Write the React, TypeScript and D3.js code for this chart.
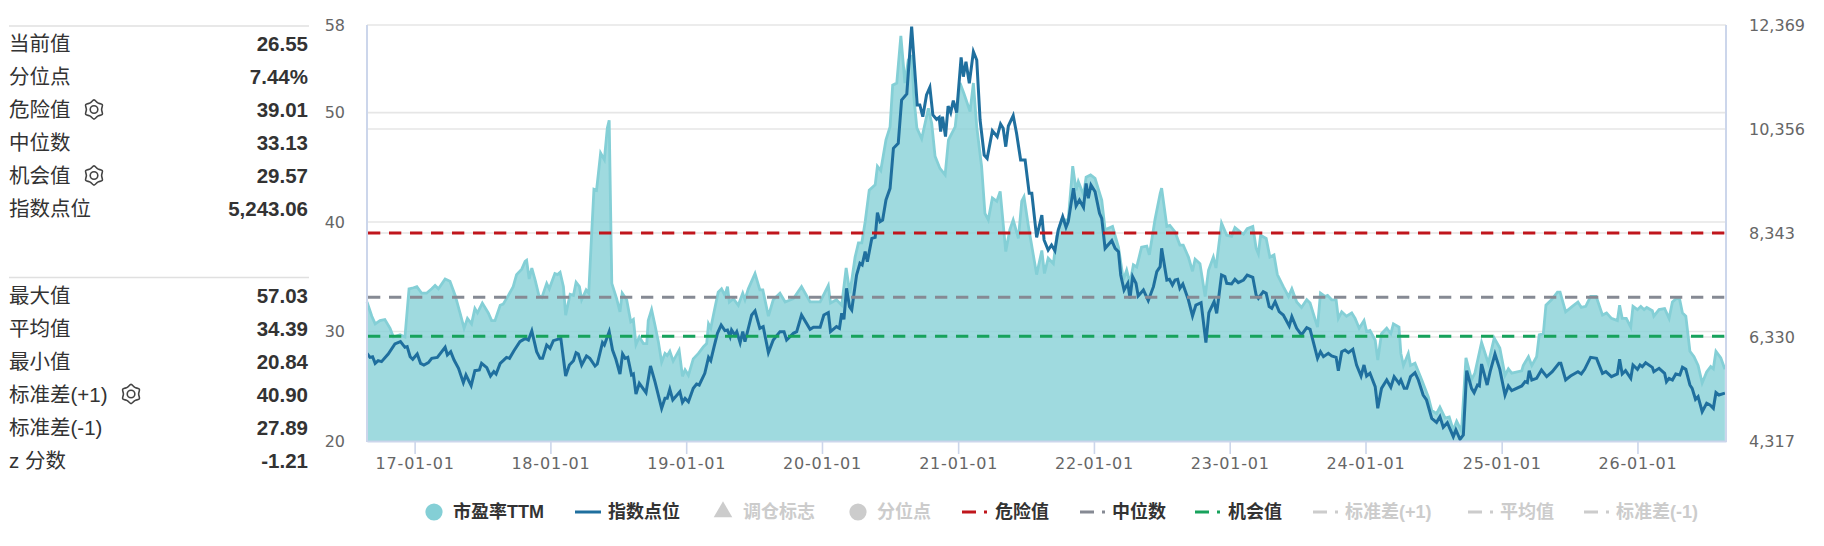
import { useEffect, useRef } from 'react';
import * as d3 from 'd3';

const startDate = new Date(2016, 7, 26);
const totalDays = 3653;

// [days since startDate, value]
const peSeries: Array<[number, number]> = [
  [0,32.7],[13,31.4],[22,30.7],[35,31.0],[48,31.1],[62,30.3],[71,29.5],[89,29.7],[102,29.5],[113,33.9],[125,34.0],[134,34.1],[147,33.5],[160,33.5],[174,33.9],[183,34.2],[192,33.9],[210,34.8],[223,34.6],[237,33.3],[250,31.7],[261,30.3],[270,31.2],[281,30.7],[290,32.1],[297,31.7],[310,32.6],[326,31.7],[335,31.0],[344,31.0],[358,32.4],[366,32.5],[380,33.3],[393,34.1],[402,35.2],[416,35.7],[425,36.4],[429,36.5],[436,34.8],[443,35.8],[452,34.7],[462,33.3],[470,33.1],[483,34.4],[490,33.9],[505,35.3],[512,35.2],[519,35.4],[528,34.1],[534,31.5],[546,33.4],[555,33.3],[562,34.5],[571,34.1],[577,32.9],[589,33.8],[596,33.5],[604,39.0],[610,43.0],[617,42.9],[628,46.3],[638,45.7],[646,48.6],[651,49.3],[658,34.4],[671,33.0],[680,31.8],[686,33.5],[698,32.9],[709,30.9],[716,31.1],[723,28.8],[732,29.5],[743,28.9],[752,28.9],[756,31.0],[765,32.0],[774,30.6],[783,29.1],[792,27.2],[801,28.0],[807,27.8],[814,28.2],[823,27.3],[839,28.3],[848,25.9],[855,26.5],[864,26.0],[877,27.5],[891,28.0],[904,28.6],[913,28.9],[918,30.7],[924,30.3],[933,31.8],[944,33.6],[953,33.9],[962,33.3],[969,34.1],[974,32.7],[985,33.0],[998,32.4],[1010,33.5],[1016,32.9],[1025,33.9],[1043,35.3],[1056,33.8],
  [1064,33.8],[1079,31.4],[1092,32.9],[1110,33.5],[1124,32.7],[1146,33.0],[1168,34.1],[1191,32.7],[1218,32.7],[1240,34.2],[1246,32.6],[1262,32.9],[1276,32.4],[1288,35.8],[1298,33.5],[1312,36.8],[1321,38.1],[1330,38.1],[1339,40.0],[1350,42.9],[1366,43.4],[1372,45.1],[1381,44.7],[1395,47.5],[1406,48.7],[1413,52.5],[1424,52.7],[1435,57.0],[1446,52.7],[1455,54.8],[1464,55.1],[1470,51.4],[1478,48.6],[1491,47.6],[1509,50.4],[1518,49.0],[1527,46.0],[1540,44.9],[1554,44.3],[1563,47.5],[1581,48.7],[1594,52.7],[1605,51.7],[1621,50.1],[1630,52.7],[1639,48.7],[1652,45.1],[1661,40.8],[1670,40.2],[1681,42.2],[1693,41.9],[1702,42.8],[1717,37.3],[1728,39.3],[1737,40.2],[1751,38.5],[1760,41.9],[1766,42.3],[1778,39.6],[1800,35.2],[1814,37.4],[1821,35.3],[1831,36.7],[1845,36.2],[1854,38.7],[1867,40.2],[1885,40.2],[1897,45.1],[1906,42.9],[1912,43.7],[1926,42.5],[1933,44.1],[1945,44.3],[1957,44.0],[1975,42.0],[1984,39.3],[2004,39.6],[2020,37.7],[2033,34.7],[2042,35.6],[2051,34.4],[2060,36.1],[2069,35.9],[2082,37.7],[2096,37.8],[2103,37.0],[2118,40.2],[2132,42.6],
  [2136,43.1],[2150,39.6],[2158,39.7],[2172,39.1],[2185,37.9],[2194,37.9],[2208,36.8],[2219,35.5],[2226,36.6],[2239,36.2],[2253,33.2],[2262,35.6],[2275,36.8],[2282,35.8],[2297,39.9],[2311,38.8],[2324,38.7],[2333,39.5],[2347,39.1],[2356,38.9],[2366,39.4],[2381,39.6],[2390,37.6],[2396,37.1],[2402,38.8],[2417,38.5],[2427,36.8],[2438,37.0],[2447,35.2],[2463,34.1],[2477,33.2],[2486,33.9],[2499,32.7],[2512,32.2],[2526,32.9],[2535,32.6],[2555,30.4],[2563,33.5],[2575,33.2],[2582,33.3],[2593,32.9],[2605,32.9],[2611,31.2],[2620,31.8],[2633,31.4],[2647,31.7],[2656,31.2],[2667,30.3],[2680,31.0],[2687,30.0],[2696,30.1],[2710,29.2],[2717,27.4],[2727,29.8],[2741,30.3],[2752,29.8],[2759,30.7],[2774,30.4],[2779,28.0],[2786,26.9],[2799,28.0],[2805,26.9],[2817,27.1],[2835,25.6],[2853,24.0],[2862,22.8],[2875,22.5],[2884,23.1],[2898,22.1],[2909,22.2],[2920,21.0],[2929,21.8],[2942,20.9],[2954,27.6],[2969,25.6],[2978,26.2],[2996,29.0],[3014,27.1],[3030,29.4],[3045,28.5],[3059,26.0],[3068,26.6],[3077,26.2],[3104,26.4],[3108,26.9],[3122,27.7],[3131,26.9],[3144,27.7],[3151,29.7],[3162,29.8],[3169,32.4],[3184,32.9],[3200,33.6],[3207,33.6],
  [3222,31.8],[3240,32.3],[3255,32.7],[3264,32.2],[3276,32.3],[3289,33.2],[3304,33.2],[3321,31.5],[3332,31.7],[3345,31.2],[3361,31.0],[3367,32.4],[3374,31.2],[3385,31.2],[3397,30.4],[3403,32.3],[3415,32.0],[3424,32.3],[3433,32.0],[3440,32.2],[3455,31.9],[3459,31.4],[3473,32.0],[3488,32.1],[3500,31.2],[3509,32.7],[3519,33.0],[3528,33.0],[3536,31.7],[3545,31.4],[3556,28.2],[3567,27.7],[3578,26.9],[3589,25.3],[3601,26.3],[3612,26.8],[3619,26.6],[3626,28.2],[3639,27.6],[3650,26.55],
];

const indexSeries: Array<[number, number]> = [
  [0,6014],[8,5936],[15,5949],[22,5820],[30,5872],[39,5853],[57,6001],[75,6195],[90,6240],[102,6130],[108,6143],[116,5949],[123,5898],[135,6001],[144,5820],[153,5788],[165,5833],[174,5917],[189,5936],[210,6130],[216,5982],[225,6046],[234,5885],[246,5724],[259,5446],[266,5594],[280,5388],[290,5678],[302,5691],[308,5820],[322,5736],[332,5575],[341,5659],[347,5614],[358,5820],[366,5872],[375,5936],[383,5917],[395,6065],[411,6240],[426,6304],[434,6272],[443,6446],[456,6046],[465,5917],[472,5917],[483,6175],[492,6111],[501,6259],[521,6304],[534,5575],[544,5788],[555,5872],[562,6027],[568,6001],[577,5788],[590,5962],[599,5917],[613,5769],[619,5807],[633,6220],[638,6175],[651,6433],[660,6078],[669,5898],[680,5614],[687,6001],[694,5917],[701,5936],[711,5594],[716,5614],[723,5227],[732,5433],[750,5253],[762,5769],[774,5465],[792,4949],[801,5143],[807,5143],[814,5317],[822,5111],[841,5272],[848,5065],[855,5143],[864,5078],[877,5336],[886,5420],[893,5401],[908,5627],[918,5936],[924,5872],[933,6143],[942,6401],[952,6562],[962,6453],[969,6466],[976,6336],[980,6466],[989,6369],[994,6433],[1003,6220],[1010,6433],[1016,6240],[1025,6498],[1034,6756],[1043,6833],[1056,6498],
  [1065,6530],[1079,6027],[1092,6272],[1110,6433],[1121,6433],[1128,6272],[1146,6401],[1155,6433],[1168,6756],[1191,6478],[1200,6517],[1218,6517],[1228,6756],[1240,6801],[1246,6433],[1262,6530],[1270,6498],[1276,6788],[1282,6672],[1289,7272],[1297,6917],[1303,6853],[1316,7530],[1325,7756],[1331,7724],[1339,7982],[1345,7788],[1357,8240],[1366,8259],[1372,8737],[1379,8562],[1386,8595],[1395,8982],[1406,9208],[1415,9982],[1428,10079],[1437,10917],[1451,11034],[1464,12337],[1479,10821],[1486,10821],[1494,10595],[1504,11014],[1513,11163],[1521,10627],[1531,10543],[1538,10582],[1542,10304],[1547,10595],[1555,10208],[1562,10801],[1569,10672],[1576,10904],[1585,10672],[1597,11743],[1603,11369],[1610,11659],[1619,11240],[1630,11853],[1639,11692],[1648,10530],[1659,9853],[1667,9788],[1681,10324],[1694,10208],[1703,10453],[1710,10369],[1717,10014],[1724,10414],[1737,10614],[1746,10272],[1757,9756],[1769,9756],[1780,9111],[1787,9111],[1800,8259],[1814,8691],[1820,8208],[1831,8014],[1840,8111],[1849,8001],[1858,8401],[1870,8659],[1879,8453],[1885,8562],[1899,9208],[1906,8866],[1915,8982],[1926,8840],[1933,9304],[1939,9014],[1946,9272],[1957,9143],[1969,8724],[1975,8627],[1984,8046],[2002,8195],[2011,8046],[2020,7982],[2026,7530],[2035,7240],[2045,7369],[2051,7078],[2058,7498],[2067,7369],[2073,7124],[2087,7240],[2100,7033],[2114,7304],[2123,7595],[2132,7691],
  [2136,8046],[2150,7433],[2157,7446],[2165,7337],[2172,7433],[2179,7446],[2185,7272],[2193,7356],[2208,7046],[2219,6737],[2228,6949],[2242,6995],[2255,6220],[2263,6801],[2277,7014],[2284,6788],[2297,7530],[2306,7498],[2311,7369],[2324,7356],[2333,7446],[2342,7382],[2356,7433],[2366,7530],[2381,7485],[2390,7143],[2396,7078],[2409,7207],[2417,7175],[2425,6917],[2432,6885],[2441,7014],[2452,6820],[2463,6756],[2479,6543],[2486,6724],[2499,6498],[2512,6369],[2526,6511],[2535,6478],[2555,5917],[2563,6046],[2571,5949],[2584,6014],[2593,5962],[2605,5936],[2611,5678],[2620,6046],[2629,6078],[2638,6027],[2650,6091],[2660,5788],[2672,5575],[2680,5788],[2687,5575],[2696,5627],[2710,5369],[2717,4949],[2727,5336],[2741,5498],[2752,5356],[2761,5562],[2774,5433],[2779,5498],[2788,5336],[2795,5336],[2805,5562],[2817,5640],[2826,5498],[2839,5207],[2848,5111],[2862,4756],[2875,4678],[2884,4788],[2893,4582],[2904,4672],[2920,4401],[2927,4530],[2938,4349],[2947,4433],[2956,5678],[2969,5336],[2976,5253],[2985,5401],[2990,5382],[2996,5807],[3011,5401],[3019,5659],[3032,6001],[3045,5704],[3059,5207],[3068,5382],[3077,5291],[3104,5382],[3113,5465],[3119,5446],[3124,5678],[3131,5498],[3144,5530],
  [3157,5691],[3171,5562],[3186,5659],[3204,5820],[3209,5820],[3222,5498],[3235,5575],[3255,5659],[3264,5614],[3273,5704],[3289,5936],[3305,5917],[3321,5627],[3330,5659],[3345,5562],[3361,5614],[3367,5898],[3374,5614],[3383,5678],[3397,5530],[3403,5788],[3415,5704],[3422,5788],[3428,5756],[3437,5833],[3455,5743],[3459,5659],[3473,5724],[3488,5627],[3493,5465],[3500,5530],[3509,5498],[3518,5614],[3529,5594],[3536,5743],[3545,5704],[3556,5401],[3562,5336],[3571,5124],[3578,5175],[3589,4885],[3601,5046],[3610,5014],[3619,4949],[3626,5253],[3634,5207],[3650,5243],
];

const leftTicks = [20, 30, 40, 50, 58];
const rightTicks = [4317, 6330, 8343, 10356, 12369];
const yearTicks = [2017, 2018, 2019, 2020, 2021, 2022, 2023, 2024, 2025, 2026];

const dangerValue = 39.01;
const medianValue = 33.13;
const chanceValue = 29.57;

const topStats = [
  ['当前值', '26.55', false],
  ['分位点', '7.44%', false],
  ['危险值', '39.01', true],
  ['中位数', '33.13', false],
  ['机会值', '29.57', true],
  ['指数点位', '5,243.06', false],
] as const;
const bottomStats = [
  ['最大值', '57.03', false],
  ['平均值', '34.39', false],
  ['最小值', '20.84', false],
  ['标准差(+1)', '40.90', true],
  ['标准差(-1)', '27.89', false],
  ['z 分数', '-1.21', false],
] as const;

const teal = '#84cfd6';
const blue = '#1f6f9e';
const red = '#c0161c';
const grey = '#868a94';
const green = '#17a25c';
const off = '#cccccc';

const legendItems = [
  { kind: 'circle', name: '市盈率TTM', color: teal, x: 434, tx: 453 },
  { kind: 'line', name: '指数点位', color: blue, x: 575, tx: 608 },
  { kind: 'triangle', name: '调仓标志', color: off, x: 723, tx: 743 },
  { kind: 'circle', name: '分位点', color: off, x: 858, tx: 877 },
  { kind: 'dash', name: '危险值', color: red, x: 962, tx: 995 },
  { kind: 'dash', name: '中位数', color: grey, x: 1080, tx: 1112 },
  { kind: 'dash', name: '机会值', color: green, x: 1195, tx: 1228 },
  { kind: 'dash', name: '标准差(+1)', color: off, x: 1313, tx: 1345 },
  { kind: 'dash', name: '平均值', color: off, x: 1468, tx: 1500 },
  { kind: 'dash', name: '标准差(-1)', color: off, x: 1584, tx: 1616 },
];

const cjk = '"Liberation Sans", "Noto Sans CJK SC", sans-serif';
const axisFont = '"DejaVu Sans", sans-serif';

export default function App() {
  const svgElement = useRef<SVGSVGElement>(null);

  useEffect(() => {
    if (svgElement.current == null) return;
    const svg = d3.select(svgElement.current);
    svg.selectAll('*').remove();

    const left = 367, right = 1726, top = 25, bottom = 441;
    const toDate = (d: number) => d3.timeDay.offset(startDate, d);

    const x = d3.scaleTime().domain([startDate, toDate(totalDays)]).range([left, right]);
    const yLeft = d3.scaleLinear().domain([20, 58]).range([bottom, top]);
    const yRight = d3.scaleLinear().domain([4317, 12369]).range([bottom, top]);

    // grid
    const grid = svg.append('g').attr('stroke', '#e6e6e6').attr('stroke-width', 1.6);
    leftTicks.forEach(t => {
      grid.append('line').attr('x1', left).attr('x2', right).attr('y1', yLeft(t)).attr('y2', yLeft(t));
    });
    rightTicks.slice(1, 4).forEach(t => {
      grid.append('line').attr('x1', left).attr('x2', right).attr('y1', yRight(t)).attr('y2', yRight(t));
    });

    // series
    const area = d3.area<[number, number]>()
      .x(d => x(toDate(d[0])))
      .y0(bottom)
      .y1(d => yLeft(d[1]));
    const peLine = d3.line<[number, number]>().x(d => x(toDate(d[0]))).y(d => yLeft(d[1]));
    const indexLine = d3.line<[number, number]>().x(d => x(toDate(d[0]))).y(d => yRight(d[1]));

    svg.append('path').attr('d', area(peSeries)).attr('fill', teal).attr('fill-opacity', 0.78);
    svg.append('path').attr('d', peLine(peSeries)).attr('fill', 'none').attr('stroke', teal).attr('stroke-width', 2.8);
    svg.append('path').attr('d', indexLine(indexSeries)).attr('fill', 'none').attr('stroke', blue).attr('stroke-width', 3);

    // dashed levels
    ([[dangerValue, red], [medianValue, grey], [chanceValue, green]] as Array<[number, string]>).forEach(([v, c]) => {
      svg.append('line')
        .attr('x1', left + 1).attr('x2', right - 1)
        .attr('y1', yLeft(v)).attr('y2', yLeft(v))
        .attr('stroke', c).attr('stroke-width', 3)
        .attr('stroke-dasharray', '12.3 8.7');
    });

    // axes
    const xAxis = svg.append('g')
      .attr('transform', `translate(0,${bottom})`)
      .call(d3.axisBottom(x)
        .tickValues(yearTicks.map(y => new Date(y, 0, 1)))
        .tickFormat(d => d3.timeFormat('%y-%m-%d')(d as Date))
        .tickSizeInner(13)
        .tickSizeOuter(0)
        .tickPadding(4));
    xAxis.select('.domain').attr('stroke', '#ccd6eb').attr('stroke-width', 2);
    xAxis.selectAll('.tick line').attr('stroke', '#ccd6eb').attr('stroke-width', 1.6);
    xAxis.selectAll('.tick text')
      .attr('fill', '#666').attr('font-family', axisFont).attr('font-size', 16).attr('letter-spacing', 0.8);

    const leftAxis = svg.append('g')
      .attr('transform', 'translate(345,0)')
      .call(d3.axisLeft(yLeft).tickValues(leftTicks).tickSize(0).tickPadding(0));
    leftAxis.select('.domain').remove();
    leftAxis.selectAll('.tick text').attr('fill', '#666').attr('font-family', axisFont).attr('font-size', 16);

    const rightAxis = svg.append('g')
      .attr('transform', 'translate(1749,0)')
      .call(d3.axisRight(yRight).tickValues(rightTicks).tickFormat(d3.format(',')).tickSize(0).tickPadding(0));
    rightAxis.select('.domain').remove();
    rightAxis.selectAll('.tick text').attr('fill', '#666').attr('font-family', axisFont).attr('font-size', 16);

    [left, right].forEach(px => {
      svg.append('line').attr('x1', px).attr('x2', px).attr('y1', top).attr('y2', bottom + 1)
        .attr('stroke', '#ccd6eb').attr('stroke-width', 2);
    });

    // stats panel
    const rowY = d3.scaleLinear().domain([0, 1]).range([0, 33]);
    const gearShape = d3.lineRadial<number>()
      .angle(i => (i * Math.PI) / 6)
      .radius(i => (i % 2 === 0 ? 9.6 : 7.6))
      .curve(d3.curveCardinalClosed);
    const drawPanel = (rows: typeof topStats | typeof bottomStats, y0: number) => {
      svg.append('line').attr('x1', 9).attr('x2', 309).attr('y1', y0).attr('y2', y0)
        .attr('stroke', '#e0e0e0').attr('stroke-width', 1.4);
      rows.forEach((r, i) => {
        const cy = y0 + 17.5 + rowY(i);
        const label = svg.append('text').attr('x', 9).attr('y', cy)
          .attr('dominant-baseline', 'central')
          .attr('font-family', cjk).attr('font-size', 20.5).attr('fill', '#333')
          .text(r[0]);
        svg.append('text').attr('x', 308).attr('y', cy)
          .attr('dominant-baseline', 'central').attr('text-anchor', 'end')
          .attr('font-family', cjk).attr('font-size', 20.5).attr('font-weight', 700).attr('fill', '#333')
          .text(r[1]);
        if (r[2]) {
          const w = (label.node() as SVGTextElement).getComputedTextLength();
          const gear = svg.append('g')
            .attr('transform', `translate(${9 + w + 23.5},${cy})`)
            .attr('fill', 'none').attr('stroke', '#444').attr('stroke-width', 1.6);
          gear.append('path').attr('d', gearShape(d3.range(12)));
          gear.append('circle').attr('r', 3.8);
        }
      });
    };
    drawPanel(topStats, 26);
    drawPanel(bottomStats, 277.5);

    // legend
    const legendY = 512;
    legendItems.forEach(item => {
      const g = svg.append('g');
      if (item.kind === 'circle') {
        g.append('circle').attr('cx', item.x).attr('cy', legendY).attr('r', 8.6).attr('fill', item.color);
      } else if (item.kind === 'triangle') {
        g.append('path').attr('transform', `translate(${item.x},${legendY})`)
          .attr('d', d3.symbol(d3.symbolTriangle, 150)()).attr('fill', item.color);
      } else if (item.kind === 'line') {
        g.append('line').attr('x1', item.x).attr('x2', item.x + 26).attr('y1', legendY).attr('y2', legendY)
          .attr('stroke', item.color).attr('stroke-width', 3);
      } else {
        g.append('line').attr('x1', item.x).attr('x2', item.x + 26).attr('y1', legendY).attr('y2', legendY)
          .attr('stroke', item.color).attr('stroke-width', 3).attr('stroke-dasharray', '14 8 3 8');
      }
      const active = item.color !== off;
      g.append('text').attr('x', item.tx).attr('y', legendY)
        .attr('dominant-baseline', 'central')
        .attr('font-family', cjk).attr('font-size', 18).attr('font-weight', 700)
        .attr('fill', active ? '#333' : off)
        .text(item.name);
    });
  }, []);

  return (
    <svg ref={svgElement} width={1824} height={546}
      style={{ position: 'absolute', left: 0, top: 0, display: 'block', background: '#fff' }} />
  );
}
